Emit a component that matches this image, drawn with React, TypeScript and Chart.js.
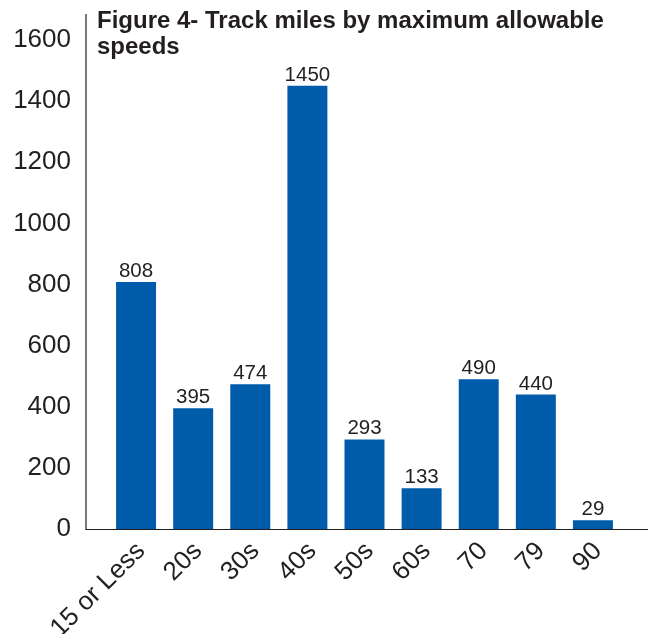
import React, { useEffect, useRef } from "react";
import { Chart, registerables } from "chart.js";

Chart.register(...registerables);

const categories = ["15 or Less", "20s", "30s", "40s", "50s", "60s", "70", "79", "90"];
const trackMiles = [808, 395, 474, 1450, 293, 133, 490, 440, 29];
const titleLines = ["Figure 4- Track miles by maximum allowable", "speeds"];

const FONT = "'Liberation Sans', Arial, Helvetica, sans-serif";
const TEXT = "#231f20";
const BAR = "#005cab";

// Axis lines that run a little past the bar area, as in the printed figure
const axisLinesPlugin = {
  id: "axisLines",
  afterDraw(chart: any) {
    const { ctx, chartArea } = chart;
    const x0 = chartArea.left - 21.5;
    const x1 = chartArea.right + 29;
    ctx.save();
    ctx.strokeStyle = "#231f20";
    ctx.lineWidth = 1.2;
    ctx.beginPath();
    ctx.moveTo(x0, chartArea.top - 26);
    ctx.lineTo(x0, chartArea.bottom + 0.5);
    ctx.lineTo(x1, chartArea.bottom + 0.5);
    ctx.stroke();
    ctx.restore();
  },
};

// Value labels above each bar
const valueLabelsPlugin = {
  id: "valueLabels",
  afterDatasetsDraw(chart: any) {
    const { ctx } = chart;
    const meta = chart.getDatasetMeta(0);
    const data = chart.data.datasets[0].data as number[];
    ctx.save();
    ctx.fillStyle = TEXT;
    ctx.font = `20.5px ${FONT}`;
    ctx.textAlign = "center";
    ctx.textBaseline = "alphabetic";
    meta.data.forEach((bar: any, i: number) => {
      ctx.fillText(String(data[i]), bar.x, bar.y - 5);
    });
    ctx.restore();
  },
};

// Bold two-line heading placed inside the plot, next to the value axis
const headingPlugin = {
  id: "heading",
  afterDraw(chart: any) {
    const { ctx, chartArea } = chart;
    ctx.save();
    ctx.fillStyle = TEXT;
    ctx.font = `bold 24px ${FONT}`;
    ctx.textAlign = "left";
    ctx.textBaseline = "alphabetic";
    const x = chartArea.left - 10.5;
    titleLines.forEach((line, i) => {
      ctx.fillText(line, x, 20 + i * 26);
    });
    ctx.restore();
  },
};

export default function App() {
  const canvasRef = useRef<HTMLCanvasElement | null>(null);

  useEffect(() => {
    if (!canvasRef.current) return;
    const chart = new Chart(canvasRef.current, {
      type: "bar",
      data: {
        labels: categories,
        datasets: [
          {
            data: trackMiles,
            backgroundColor: BAR,
            borderWidth: 0,
            barPercentage: 0.7,
            categoryPercentage: 1,
          },
        ],
      },
      options: {
        animation: false,
        responsive: true,
        maintainAspectRatio: false,
        layout: { padding: { top: 32, right: 26.5, left: 0, bottom: 0 } },
        plugins: {
          legend: { display: false },
          title: { display: false },
          tooltip: { enabled: false },
        },
        scales: {
          x: {
            grid: { display: false, drawTicks: false },
            border: { display: false },
            afterFit: (scale: any) => {
              scale.height = 105;
            },
            ticks: {
              color: TEXT,
              font: { family: FONT, size: 26 },
              maxRotation: 45,
              minRotation: 45,
              autoSkip: false,
              padding: 7,
              labelOffset: 5,
            },
          },
          y: {
            min: 0,
            max: 1600,
            grid: { display: false, drawTicks: false },
            border: { display: false },
            afterFit: (scale: any) => {
              // fixed gutter for the value labels; the top is set by layout padding
              scale.width = 99.5;
              scale.paddingTop = 0;
              scale.paddingBottom = 0;
            },
            ticks: {
              stepSize: 200,
              color: TEXT,
              font: { family: FONT, size: 26 },
              padding: 36.5,
              callback: (value: any) => String(value),
            },
          },
        },
      },
      plugins: [axisLinesPlugin, valueLabelsPlugin, headingPlugin],
    });
    return () => chart.destroy();
  }, []);

  return (
    <div style={{ width: 640, height: 626, position: "relative" }}>
      <canvas ref={canvasRef} />
    </div>
  );
}
